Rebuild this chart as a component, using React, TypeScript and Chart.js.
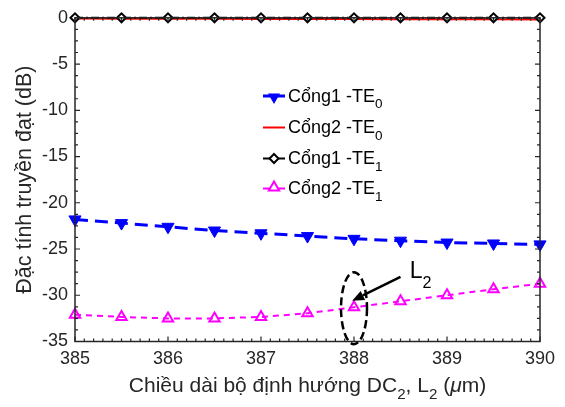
import React, { useEffect, useRef } from 'react';
import { Chart, registerables } from 'chart.js';

Chart.register(...registerables);

const FAMILY = '"Liberation Sans", Arial, Helvetica, sans-serif';
const AXIS_COLOR = '#262626';

// ---- data ----
const lengths = [385, 385.5, 386, 386.5, 387, 387.5, 388, 388.5, 389, 389.5, 390];
const port1TE0 = [-21.8, -22.2, -22.6, -23.0, -23.3, -23.6, -23.9, -24.1, -24.3, -24.4, -24.5];
const port2TE0 = [-0.08, -0.09, -0.1, -0.11, -0.12, -0.13, -0.14, -0.15, -0.16, -0.17, -0.18];
const port1TE1 = [0, 0, 0, 0, 0, 0, 0, 0, 0, 0, 0];
const port2TE1 = [-32.1, -32.35, -32.5, -32.5, -32.35, -31.95, -31.3, -30.65, -30.0, -29.35, -28.75];
const xTicks = [385, 386, 387, 388, 389, 390];
const yTicks = [-35, -30, -25, -20, -15, -10, -5, 0];
const legendMain = ['Cổng1 -TE', 'Cổng2 -TE', 'Cổng1 -TE', 'Cổng2 -TE'];
const legendSub = ['0', '0', '1', '1'];
const xTitle: [string, string][] = [['Chiều dài bộ định hướng DC', 'n'], ['2', 's'], [', L', 'n'], ['2', 's'], [' (', 'n'], ['μ', 'i'], ['m)', 'n']];
const yTitle = 'Đặc tính truyền đạt (dB)';
const markLabel: [string, string][] = [['L', 'n'], ['2', 's']];
const markLength = 388; // ellipse marks L2 = 388 on the TE1 curve
const markCenterDb = -31.4;
const arrowFrom = { x: 388.5, y: -28.0 };
const arrowTo = { x: 387.98, y: -30.6 };
const labelPos = { x: 388.6, y: -28.1 };

const pts = (ys: number[]) => lengths.map((x, i) => ({ x, y: ys[i] }));

function drawRich(ctx: CanvasRenderingContext2D, parts: [string, string][], x: number, y: number, size: number, align: 'left' | 'center', subScale = 0.72, subShift = 0.33) {
  const fontFor = (k: string) => (k === 's' ? `${size * subScale}px ${FAMILY}` : k === 'i' ? `italic ${size}px ${FAMILY}` : `${size}px ${FAMILY}`);
  let total = 0;
  for (const [t, k] of parts) { ctx.font = fontFor(k); total += ctx.measureText(t).width; }
  let cx = align === 'center' ? x - total / 2 : x;
  ctx.textAlign = 'left';
  ctx.textBaseline = 'alphabetic';
  for (const [t, k] of parts) {
    ctx.font = fontFor(k);
    ctx.fillText(t, cx, k === 's' ? y + size * subShift : y);
    cx += ctx.measureText(t).width;
  }
}

function triDown(ctx: CanvasRenderingContext2D, x: number, y: number, r: number) {
  ctx.beginPath();
  ctx.moveTo(x, y + r);
  ctx.lineTo(x - r * 0.866, y - r / 2);
  ctx.lineTo(x + r * 0.866, y - r / 2);
  ctx.closePath();
}
function triUp(ctx: CanvasRenderingContext2D, x: number, y: number, r: number) {
  ctx.beginPath();
  ctx.moveTo(x, y - r);
  ctx.lineTo(x - r * 0.866, y + r / 2);
  ctx.lineTo(x + r * 0.866, y + r / 2);
  ctx.closePath();
}
function diamond(ctx: CanvasRenderingContext2D, x: number, y: number, r: number) {
  ctx.beginPath();
  ctx.moveTo(x, y - r);
  ctx.lineTo(x + r, y);
  ctx.lineTo(x, y + r);
  ctx.lineTo(x - r, y);
  ctx.closePath();
}

const decorPlugin = {
  id: 'decor',
  afterDraw(chart: any) {
    const { ctx, chartArea: a, scales } = chart;
    const xs = scales.x, ys = scales.y;
    ctx.save();
    // frame
    ctx.strokeStyle = AXIS_COLOR;
    ctx.lineWidth = 1.5;
    ctx.setLineDash([]);
    ctx.strokeRect(a.left, a.top, a.right - a.left, a.bottom - a.top);
    // x ticks (major 1, minor 0.1), inward top & bottom
    ctx.lineWidth = 1.2;
    ctx.beginPath();
    const xmin = xTicks[0], xmax = xTicks[xTicks.length - 1];
    const nx = Math.round((xmax - xmin) * 10);
    for (let i = 0; i <= nx; i++) {
      const px = xs.getPixelForValue(xmin + i / 10);
      const len = i % 10 === 0 ? 5 : 3;
      ctx.moveTo(px, a.bottom); ctx.lineTo(px, a.bottom - len);
      ctx.moveTo(px, a.top); ctx.lineTo(px, a.top + len);
    }
    const ymin = yTicks[0], ymax = yTicks[yTicks.length - 1];
    const ny = Math.round((ymax - ymin) / 1.25);
    for (let i = 0; i <= ny; i++) {
      const py = ys.getPixelForValue(ymin + i * 1.25);
      const len = i % 4 === 0 ? 5 : 3;
      ctx.moveTo(a.left, py); ctx.lineTo(a.left + len, py);
      ctx.moveTo(a.right, py); ctx.lineTo(a.right - len, py);
    }
    ctx.stroke();

    // axis titles
    ctx.fillStyle = AXIS_COLOR;
    drawRich(ctx, xTitle, (a.left + a.right) / 2, 392, 21, 'center');
    ctx.save();
    ctx.translate(31, (a.top + a.bottom) / 2);
    ctx.rotate(-Math.PI / 2);
    drawRich(ctx, [[yTitle, 'n']], 0, 0, 21.5, 'center');
    ctx.restore();

    // ellipse annotation
    ctx.strokeStyle = '#000';
    ctx.lineWidth = 2.5;
    ctx.setLineDash([8, 4]);
    ctx.beginPath();
    ctx.ellipse(xs.getPixelForValue(markLength), ys.getPixelForValue(markCenterDb), 13, 36, 0, 0, Math.PI * 2);
    ctx.stroke();
    ctx.setLineDash([]);
    // arrow
    const ax0 = xs.getPixelForValue(arrowFrom.x), ay0 = ys.getPixelForValue(arrowFrom.y);
    const ax1 = xs.getPixelForValue(arrowTo.x), ay1 = ys.getPixelForValue(arrowTo.y);
    const ang = Math.atan2(ay1 - ay0, ax1 - ax0);
    const hl = 12, hw = 5;
    const bx = ax1 - Math.cos(ang) * hl, by = ay1 - Math.sin(ang) * hl;
    ctx.beginPath();
    ctx.moveTo(ax0, ay0); ctx.lineTo(bx, by); ctx.stroke();
    ctx.fillStyle = '#000';
    ctx.beginPath();
    ctx.moveTo(ax1, ay1);
    ctx.lineTo(bx + Math.sin(ang) * hw, by - Math.cos(ang) * hw);
    ctx.lineTo(bx - Math.sin(ang) * hw, by + Math.cos(ang) * hw);
    ctx.closePath();
    ctx.fill();
    drawRich(ctx, markLabel, xs.getPixelForValue(labelPos.x), ys.getPixelForValue(labelPos.y), 23, 'left', 0.7, 0.45);

    // legend
    const rows = [96, 127.5, 158.5, 188.5];
    const lx0 = 263, lx1 = 285, mx = 274, tx = 288;
    rows.forEach((ry, i) => {
      ctx.setLineDash([]);
      if (i === 0) {
        ctx.strokeStyle = '#0000FF'; ctx.lineWidth = 3;
        ctx.beginPath(); ctx.moveTo(lx0, ry); ctx.lineTo(lx1, ry); ctx.stroke();
        ctx.fillStyle = '#0000FF';
        triDown(ctx, mx, ry + 1, 7); ctx.fill();
      } else if (i === 1) {
        ctx.strokeStyle = '#FF0000'; ctx.lineWidth = 2;
        ctx.beginPath(); ctx.moveTo(lx0, ry); ctx.lineTo(lx1, ry); ctx.stroke();
      } else if (i === 2) {
        ctx.strokeStyle = '#000'; ctx.lineWidth = 2;
        ctx.beginPath(); ctx.moveTo(lx0, ry); ctx.lineTo(lx1, ry); ctx.stroke();
        ctx.fillStyle = '#fff';
        diamond(ctx, mx, ry, 4.5); ctx.fill(); ctx.stroke();
      } else {
        ctx.strokeStyle = '#FF00FF'; ctx.lineWidth = 2;
        ctx.beginPath(); ctx.moveTo(lx0, ry); ctx.lineTo(lx1, ry); ctx.stroke();
        ctx.fillStyle = '#fff';
        triUp(ctx, mx, ry - 1, 6); ctx.fill(); ctx.stroke();
      }
      ctx.fillStyle = '#000';
      drawRich(ctx, [[legendMain[i], 'n'], [legendSub[i], 's']], tx, ry + 5.5, 18, 'left', 0.75, 0.38);
    });
    ctx.restore();
  },
};

export default function App() {
  const ref = useRef<HTMLCanvasElement | null>(null);
  useEffect(() => {
    if (!ref.current) return;
    const tickFont = { family: FAMILY, size: 18 };
    const chart = new Chart(ref.current, {
      type: 'line',
      data: {
        datasets: [
          {
            label: 'Cổng1 -TE1', data: pts(port1TE1), order: 0, clip: false,
            borderColor: '#000', borderWidth: 2, borderDash: [8, 3, 2, 3],
            pointStyle: 'rectRot', pointRadius: 4.5, pointBorderWidth: 2,
            pointBackgroundColor: '#fff', pointBorderColor: '#000',
          },
          {
            label: 'Cổng2 -TE0', data: pts(port2TE0), order: 1, clip: false,
            borderColor: '#FF0000', borderWidth: 2, pointRadius: 0,
          },
          {
            label: 'Cổng1 -TE0', data: pts(port1TE0), order: 2, clip: false,
            borderColor: '#0000FF', borderWidth: 3, borderDash: [13, 7],
            pointStyle: 'triangle', rotation: 180, pointRadius: 7, pointBorderWidth: 1,
            pointBackgroundColor: '#0000FF', pointBorderColor: '#0000FF',
          },
          {
            label: 'Cổng2 -TE1', data: pts(port2TE1), order: 3, clip: false,
            borderColor: '#FF00FF', borderWidth: 2, borderDash: [6, 5],
            pointStyle: 'triangle', pointRadius: 6, pointBorderWidth: 2,
            pointBackgroundColor: 'rgba(255,255,255,0)', pointBorderColor: '#FF00FF',
          },
        ] as any,
      },
      options: {
        animation: false,
        responsive: false,
        maintainAspectRatio: false,
        layout: { padding: { top: 13.5, right: 25, left: 0, bottom: 0 } },
        plugins: { legend: { display: false }, tooltip: { enabled: false } },
        scales: {
          x: {
            type: 'linear', min: xTicks[0], max: xTicks[xTicks.length - 1],
            afterBuildTicks: (s: any) => { s.ticks = xTicks.map((v) => ({ value: v })); },
            grid: { display: false, drawTicks: false }, border: { display: false },
            ticks: { font: tickFont, color: AXIS_COLOR, padding: 7, maxRotation: 0, autoSkip: false, callback: (v: any) => String(v) },
            afterFit: (s: any) => { s.height = 65.5; },
          },
          y: {
            type: 'linear', min: yTicks[0], max: yTicks[yTicks.length - 1],
            afterBuildTicks: (s: any) => { s.ticks = yTicks.map((v) => ({ value: v })); },
            grid: { display: false, drawTicks: false }, border: { display: false },
            ticks: { font: tickFont, color: AXIS_COLOR, padding: 7, autoSkip: false, callback: (v: any) => String(v) },
            afterFit: (s: any) => { s.width = 75; },
          },
        },
      } as any,
      plugins: [decorPlugin],
    });
    return () => chart.destroy();
  }, []);
  return (
    <div style={{ position: 'fixed', left: 0, top: 0, width: 565, height: 407, background: '#fff' }}>
      <canvas ref={ref} width={565} height={407} style={{ width: 565, height: 407, display: 'block' }} />
    </div>
  );
}
